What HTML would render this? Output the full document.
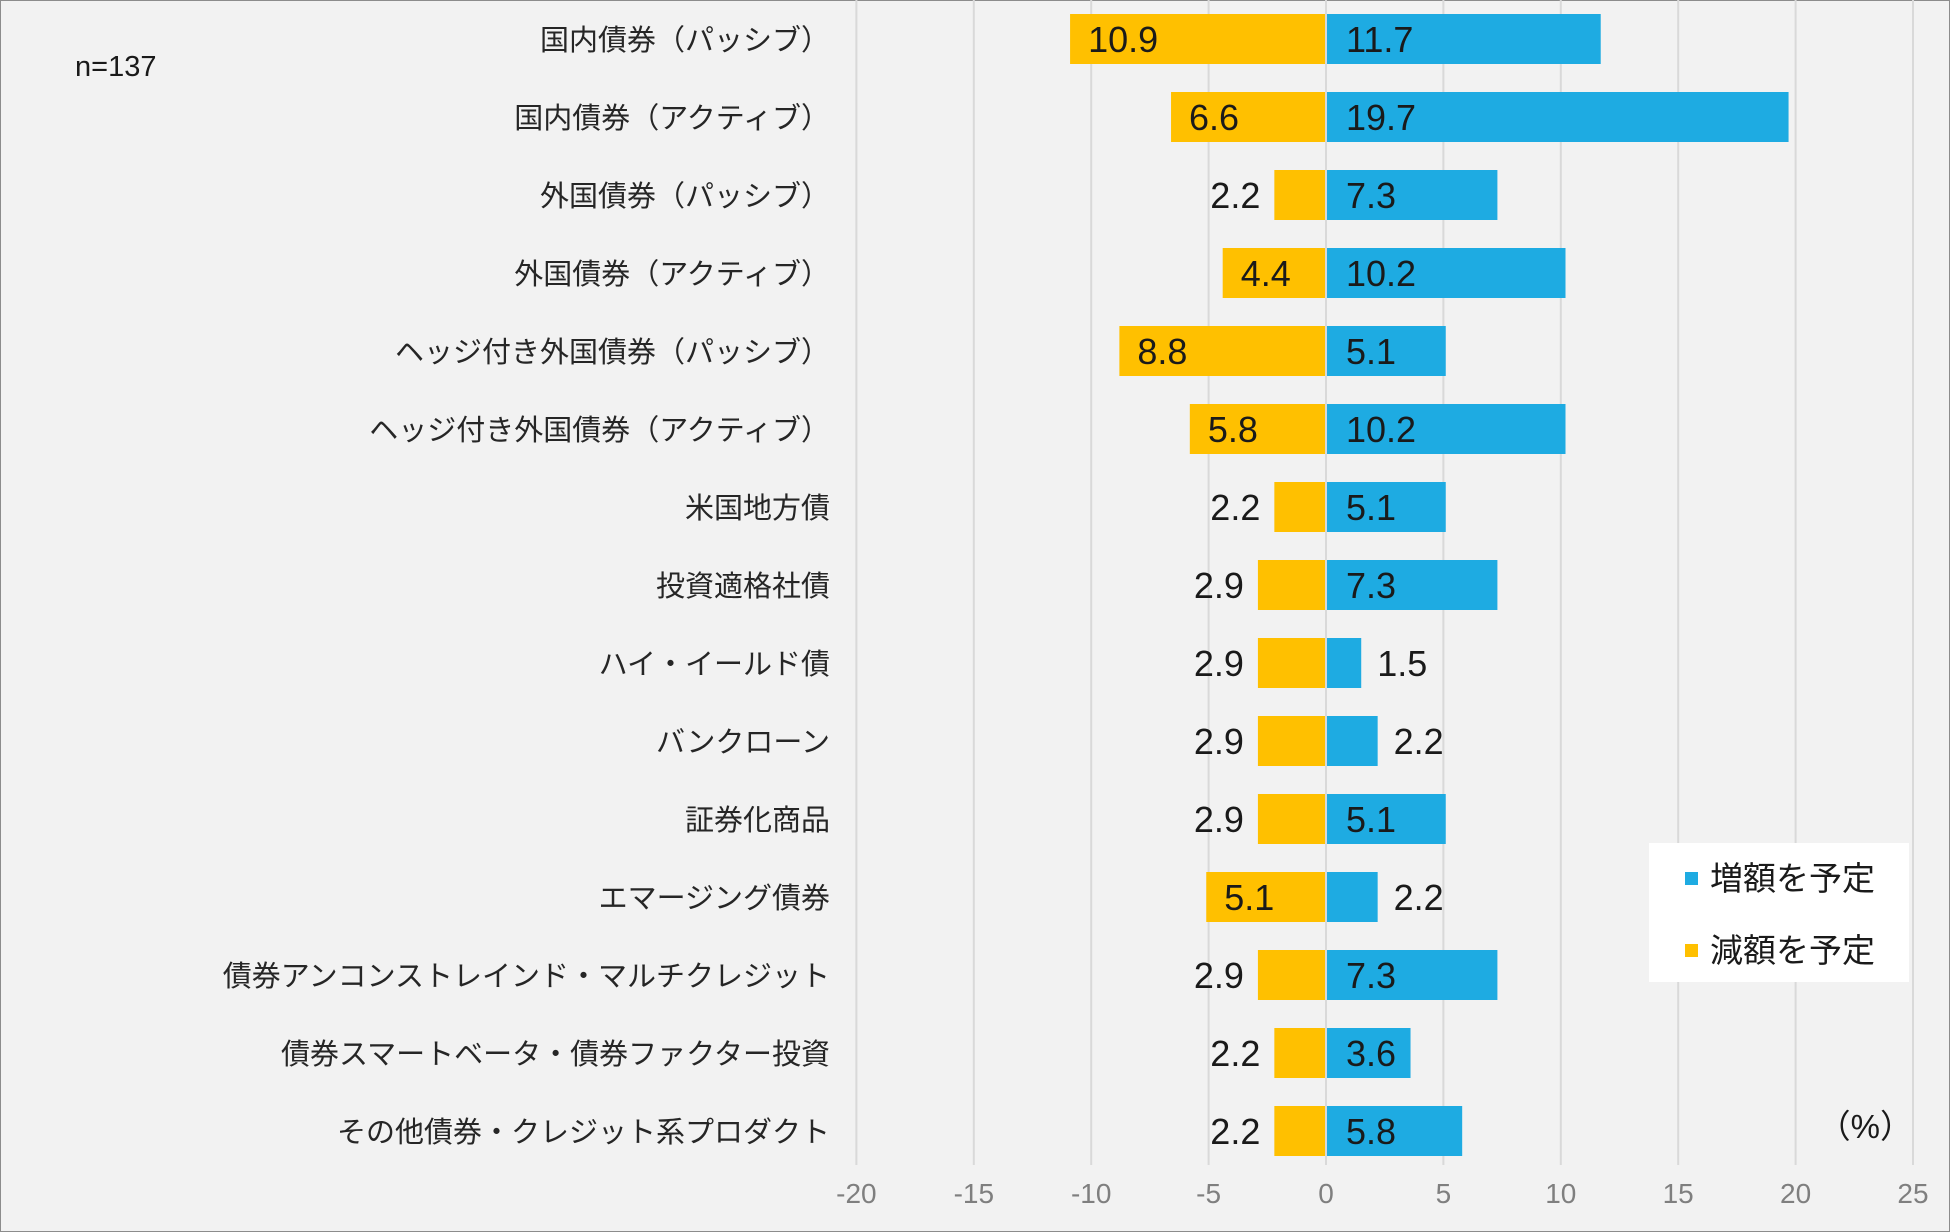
<!DOCTYPE html>
<html><head><meta charset="utf-8">
<style>
html,body{margin:0;padding:0;}
body{width:1950px;height:1232px;background:#f2f2f2;overflow:hidden;font-family:"Liberation Sans","Noto Sans CJK JP",sans-serif;}
#frame{position:absolute;left:0;top:0;width:1948px;height:1230px;border:1px solid #8c8c8c;}
</style></head>
<body>
<div id="frame"></div>
<svg id="chart" width="1950" height="1232" style="position:absolute;left:0;top:0"></svg>
<script>
const categories=["国内債券（パッシブ）","国内債券（アクティブ）","外国債券（パッシブ）","外国債券（アクティブ）","ヘッジ付き外国債券（パッシブ）","ヘッジ付き外国債券（アクティブ）","米国地方債","投資適格社債","ハイ・イールド債","バンクローン","証券化商品","エマージング債券","債券アンコンストレインド・マルチクレジット","債券スマートベータ・債券ファクター投資","その他債券・クレジット系プロダクト"];
const increase=[11.7,19.7,7.3,10.2,5.1,10.2,5.1,7.3,1.5,2.2,5.1,2.2,7.3,3.6,5.8];
const decrease=[10.9,6.6,2.2,4.4,8.8,5.8,2.2,2.9,2.9,2.9,2.9,5.1,2.9,2.2,2.2];
const ticks=[-20,-15,-10,-5,0,5,10,15,20,25];
const NS="http://www.w3.org/2000/svg";
const svg=document.getElementById('chart');
const x0=1326, pxPer=23.48;
function xs(v){return x0+v*pxPer;}
function yc(i){return 39+i*78;}
const barH=50;
function mk(tag,attrs,parent){const e=document.createElementNS(NS,tag);for(const k in attrs)e.setAttribute(k,attrs[k]);(parent||svg).appendChild(e);return e;}
// gridlines & ticks
ticks.forEach(t=>{
  const g=mk('line',{x1:xs(t),x2:xs(t),y1:0,y2:1165,stroke:'#d9d9d9','stroke-width':2});
  
  
  const tx=mk('text',{x:xs(t),y:1203,'text-anchor':'middle','font-size':28,fill:'#7f7f7f'});
  tx.textContent=t;
  
  
});
categories.forEach((c,i)=>{
  const y=yc(i);
  const lab=mk('text',{x:830,y:y+11,'text-anchor':'end','font-size':29,fill:'#262626'});
  lab.textContent=c;
  
  
  const d=decrease[i];
  const rd=mk('rect',{x:xs(-d),y:y-barH/2,width:xs(0)-xs(-d)-1,height:barH,fill:'#ffc000'});
  
  
  const v=increase[i];
  const ri=mk('rect',{x:xs(0)+1,y:y-barH/2,width:xs(v)-xs(0)-1,height:barH,fill:'#1eabe2'});
  
  
  // labels
  let dl;
  if(d>=4){dl=mk('text',{x:xs(-d)+18,y:y+13,'font-size':36,fill:'#1a1a1a'});}
  else{dl=mk('text',{x:xs(-d)-14,y:y+13,'text-anchor':'end','font-size':36,fill:'#1a1a1a'});}
  dl.textContent=d.toFixed(1);
  
  
  let il;
  if(v>=3.5){il=mk('text',{x:xs(0)+20,y:y+13,'font-size':36,fill:'#1a1a1a'});}
  else{il=mk('text',{x:xs(v)+16,y:y+13,'font-size':36,fill:'#1a1a1a'});}
  il.textContent=v.toFixed(1);
  
  
});
const n=mk('text',{x:75,y:76,'font-size':29,fill:'#1a1a1a'});
n.textContent='n=137';


const pct=mk('text',{x:1913,y:1138,'text-anchor':'end','font-size':33,fill:'#1a1a1a'});
pct.textContent='（%）';


// legend
const lg=mk('g',{});


mk('rect',{x:1649,y:843,width:260,height:139,fill:'#ffffff'},lg);
const l1=mk('rect',{x:1685,y:872,width:13,height:13,fill:'#1eabe2'},lg);


const t1=mk('text',{x:1710,y:890,'font-size':33,fill:'#1a1a1a'},lg);
t1.textContent='増額を予定';


const l2=mk('rect',{x:1685,y:944,width:13,height:13,fill:'#ffc000'},lg);


const t2=mk('text',{x:1710,y:962,'font-size':33,fill:'#1a1a1a'},lg);
t2.textContent='減額を予定';


</script>
</body></html>
